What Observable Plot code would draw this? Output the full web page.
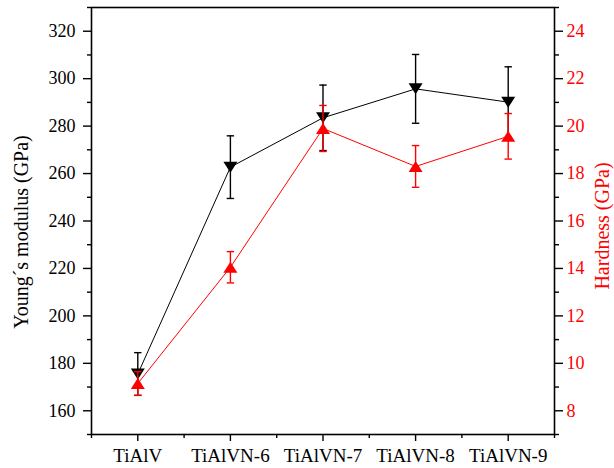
<!DOCTYPE html>
<html>
<head>
<meta charset="utf-8">
<script src="https://cdn.jsdelivr.net/npm/d3@7"></script>
<script src="https://cdn.jsdelivr.net/npm/@observablehq/plot@0.6"></script>
<style>
  html, body { margin: 0; padding: 0; background: white; }
  #chart svg { display: block; }
  #chart svg, #chart svg g, #chart svg text { font-family: "Liberation Serif", "Times New Roman", serif !important; font-variant: normal !important; }
</style>
</head>
<body>
<div id="chart"></div>
<script>
// ---- data ----
const samples = ["TiAlV", "TiAlVN-6", "TiAlVN-7", "TiAlVN-8", "TiAlVN-9"];
const modulus = [175.5, 262.7, 283.5, 295.7, 290.1];      // Young's modulus (GPa)
const modulusErr = [9, 13.2, 13.8, 14.5, 14.9];
const hardness = [9.15, 14.05, 19.9, 18.3, 19.57];        // Hardness (GPa)
const hardnessErr = [0.5, 0.66, 0.97, 0.88, 0.96];
const modulusTicks = [160, 180, 200, 220, 240, 260, 280, 300, 320];
const modulusMinor = [150, 170, 190, 210, 230, 250, 270, 290, 310, 330];
const hardnessTicks = [8, 10, 12, 14, 16, 18, 20, 22, 24];
const hardnessMinor = [7, 9, 11, 13, 15, 17, 19, 21, 23, 25];

// right axis (7–25 GPa) is aligned with left axis (150–330 GPa)
const hToE = h => 10 * h + 80;

const rows = samples.map((s, i) => ({
  i, s,
  E: modulus[i], Elo: modulus[i] - modulusErr[i], Ehi: modulus[i] + modulusErr[i],
  H: hToE(hardness[i]), Hlo: hToE(hardness[i] - hardnessErr[i]), Hhi: hToE(hardness[i] + hardnessErr[i])
}));

const triDown = {draw(ctx) { ctx.moveTo(0, 5.5); ctx.lineTo(-7, -5.5); ctx.lineTo(7, -5.5); ctx.closePath(); }};
const triUp = {draw(ctx) { ctx.moveTo(0, -5.5); ctx.lineTo(7, 5.5); ctx.lineTo(-7, 5.5); ctx.closePath(); }};
const cap = {draw(ctx) { ctx.moveTo(-3.7, 0); ctx.lineTo(3.7, 0); }};

const xMajor = samples.map((s, i) => i);
const xMinor = [-0.5, 0.5, 1.5, 2.5, 3.5, 4.5];
const serif = "Liberation Serif";

const chart = Plot.plot({
  width: 614,
  height: 468,
  marginLeft: 91,
  marginRight: 60,
  marginTop: 7,
  marginBottom: 34,
  x: {type: "linear", domain: [-0.5, 4.5], axis: null},
  y: {domain: [150, 330], axis: null},
  style: {background: "white", color: "black", fontFamily: serif},
  marks: [
    // axis ticks
    Plot.axisX(xMajor, {tickSize: 7, tickFormat: () => "", strokeWidth: 1.4, label: null}),
    Plot.axisX(xMinor, {tickSize: 4, tickFormat: () => "", strokeWidth: 1.4, label: null}),
    Plot.axisY(modulusTicks, {anchor: "left", tickSize: 8, tickFormat: () => "", strokeWidth: 1.4, label: null}),
    Plot.axisY(modulusMinor, {anchor: "left", tickSize: 4, tickFormat: () => "", strokeWidth: 1.4, label: null}),
    Plot.axisY(hardnessTicks.map(hToE), {anchor: "right", tickSize: 8, tickFormat: () => "", strokeWidth: 1.4, label: null}),
    Plot.axisY(hardnessMinor.map(hToE), {anchor: "right", tickSize: 4, tickFormat: () => "", strokeWidth: 1.4, label: null}),
    Plot.frame({stroke: "black", strokeWidth: 1.6}),
    // tick labels
    Plot.text(xMajor, {x: d => d, frameAnchor: "bottom", text: i => samples[i], dy: 21, lineAnchor: "middle", textAnchor: "middle", fontSize: 19, fontFamily: serif, fill: "black"}),
    Plot.text(modulusTicks, {y: d => d, frameAnchor: "left", text: d => String(d), dx: -16, textAnchor: "end", lineAnchor: "middle", fontSize: 18, fontFamily: serif, fill: "black"}),
    Plot.text(hardnessTicks, {y: d => hToE(d), frameAnchor: "right", text: d => String(d), dx: 12, textAnchor: "start", lineAnchor: "middle", fontSize: 18, fontFamily: serif, fill: "red"}),
    // axis titles
    Plot.text(["Young´s modulus (GPa)"], {text: d => d, frameAnchor: "left", textAnchor: "middle", rotate: -90, dx: -70, dy: 11, fontSize: 20, fontFamily: serif, fill: "black"}),
    Plot.text(["Hardness (GPa)"], {text: d => d, frameAnchor: "right", textAnchor: "middle", rotate: -90, dx: 48, dy: 5, fontSize: 20, fontFamily: serif, fill: "red"}),
    // Young's modulus series
    Plot.ruleX(rows, {x: "i", y1: "Elo", y2: "Ehi", stroke: "black", strokeWidth: 1.4}),
    Plot.dot(rows, {x: "i", y: "Elo", symbol: cap, stroke: "black", fill: "none", strokeWidth: 1.4}),
    Plot.dot(rows, {x: "i", y: "Ehi", symbol: cap, stroke: "black", fill: "none", strokeWidth: 1.4}),
    Plot.line(rows, {x: "i", y: "E", stroke: "black", strokeWidth: 1}),
    Plot.dot(rows, {x: "i", y: "E", symbol: triDown, fill: "black", stroke: "none"}),
    // Hardness series
    Plot.ruleX(rows, {x: "i", y1: "Hlo", y2: "Hhi", stroke: "red", strokeWidth: 1.4}),
    Plot.dot(rows, {x: "i", y: "Hlo", symbol: cap, stroke: "red", fill: "none", strokeWidth: 1.4}),
    Plot.dot(rows, {x: "i", y: "Hhi", symbol: cap, stroke: "red", fill: "none", strokeWidth: 1.4}),
    Plot.line(rows, {x: "i", y: "H", stroke: "red", strokeWidth: 1}),
    Plot.dot(rows, {x: "i", y: "H", symbol: triUp, fill: "red", stroke: "none"})
  ]
});
document.getElementById("chart").append(chart);
</script>
</body>
</html>
